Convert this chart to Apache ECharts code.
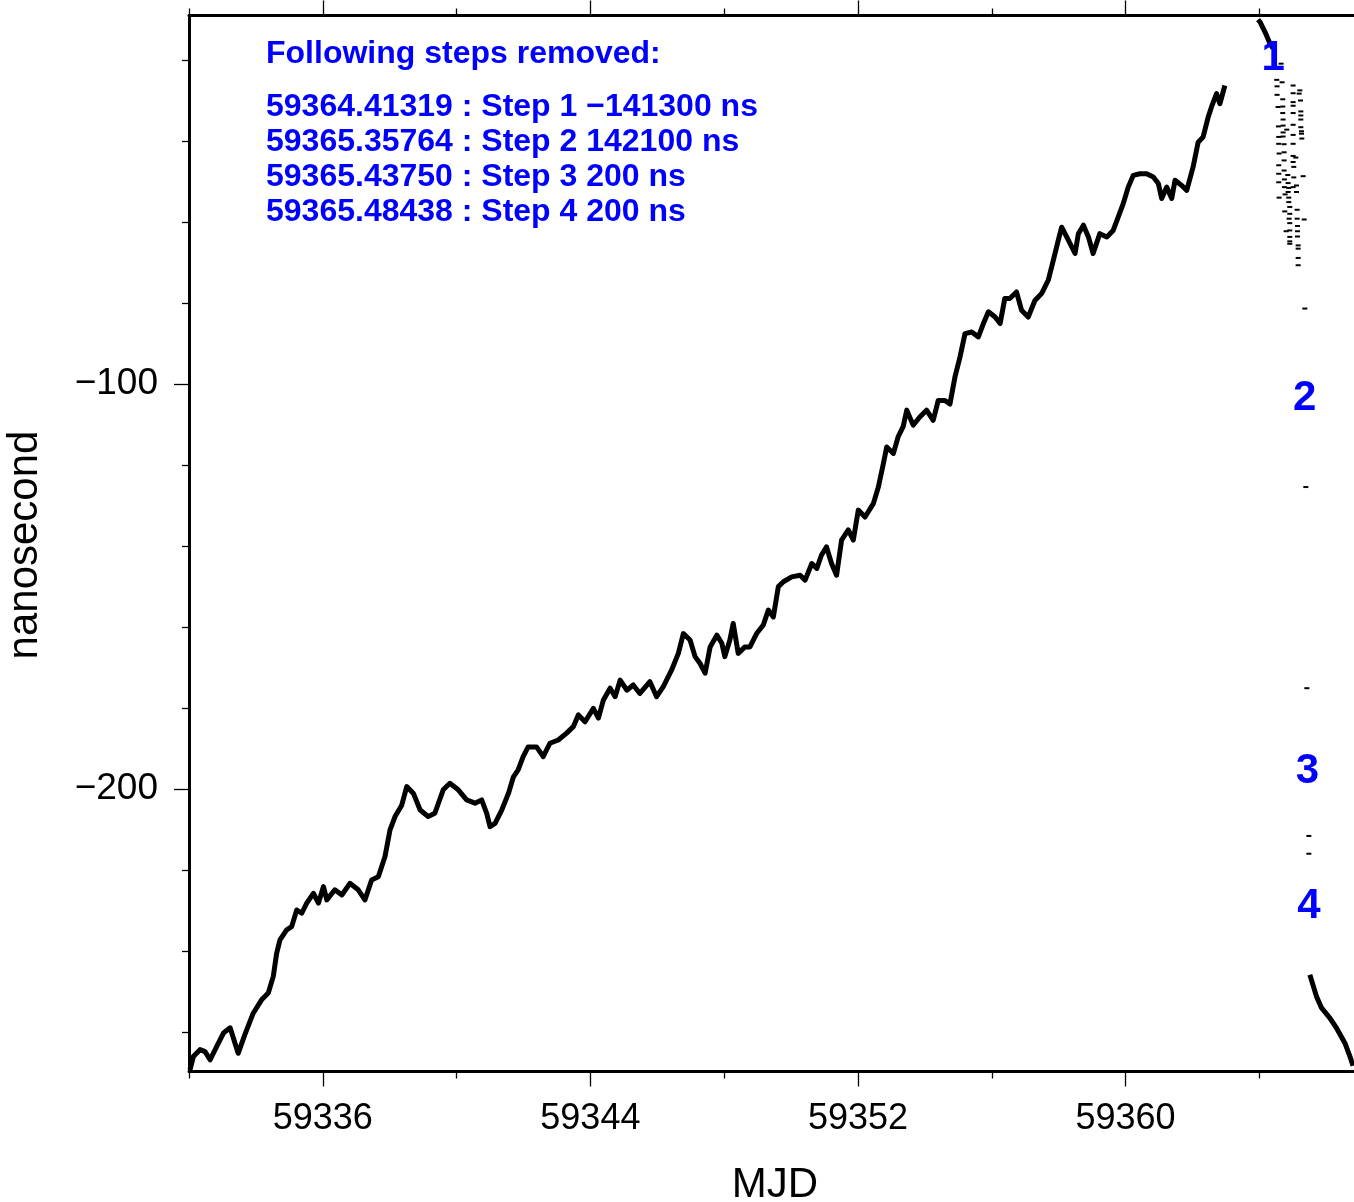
<!DOCTYPE html>
<html>
<head>
<meta charset="utf-8">
<script src="https://cdn.jsdelivr.net/npm/echarts@6/dist/echarts.min.js"></script>
<style>
html,body{margin:0;padding:0;background:#fff;}
#chart{width:1354px;height:1202px;}
</style>
</head>
<body>
<div id="chart"></div>
<script>
// ---- data ----
const mainMjd = [59332.03,59332.13,59332.33,59332.48,59332.63,59332.83,59333.03,59333.23,59333.47,59333.67,59333.92,59334.17,59334.37,59334.52,59334.62,59334.72,59334.92,59335.07,59335.22,59335.37,59335.52,59335.72,59335.87,59336.02,59336.12,59336.36,59336.57,59336.81,59337.06,59337.26,59337.46,59337.66,59337.86,59338.01,59338.16,59338.36,59338.51,59338.71,59338.91,59339.15,59339.35,59339.60,59339.80,59340.05,59340.30,59340.55,59340.75,59340.90,59341.00,59341.15,59341.35,59341.55,59341.70,59341.84,59341.99,59342.14,59342.39,59342.59,59342.79,59343.04,59343.29,59343.49,59343.64,59343.84,59344.09,59344.24,59344.39,59344.59,59344.74,59344.89,59345.09,59345.28,59345.48,59345.78,59345.98,59346.18,59346.43,59346.63,59346.78,59346.98,59347.13,59347.28,59347.43,59347.58,59347.78,59347.93,59348.02,59348.17,59348.27,59348.42,59348.62,59348.77,59348.97,59349.17,59349.32,59349.47,59349.62,59349.77,59350.02,59350.27,59350.42,59350.62,59350.77,59350.91,59351.06,59351.21,59351.36,59351.51,59351.71,59351.86,59352.01,59352.21,59352.46,59352.61,59352.76,59352.86,59353.06,59353.20,59353.35,59353.46,59353.65,59353.85,59354.05,59354.25,59354.40,59354.60,59354.75,59354.90,59355.05,59355.20,59355.40,59355.60,59355.75,59355.90,59356.10,59356.25,59356.39,59356.54,59356.74,59356.89,59357.09,59357.29,59357.49,59357.69,59357.84,59357.99,59358.09,59358.29,59358.49,59358.59,59358.74,59358.89,59359.03,59359.23,59359.44,59359.63,59359.78,59359.93,59360.08,59360.23,59360.43,59360.63,59360.83,59360.98,59361.08,59361.23,59361.38,59361.48,59361.68,59361.83,59362.02,59362.17,59362.32,59362.47,59362.57,59362.72,59362.82,59362.97];
const mainNs = [-269.4,-266.1,-264.4,-264.9,-266.9,-263.6,-260.3,-259.0,-265.3,-260.7,-255.4,-252.1,-250.4,-246.3,-240.6,-237.3,-234.8,-234.0,-229.9,-230.7,-228.2,-225.8,-228.2,-224.1,-227.4,-224.9,-226.2,-223.3,-224.9,-227.4,-222.5,-221.7,-216.7,-210.1,-206.8,-204.0,-199.4,-201.1,-205.2,-206.8,-206.0,-200.2,-198.6,-200.2,-202.7,-203.5,-202.7,-206.0,-209.3,-208.5,-205.2,-201.1,-197.0,-195.3,-192.0,-189.6,-189.6,-192.0,-188.7,-187.9,-186.2,-184.6,-181.7,-183.4,-180.1,-182.5,-178.0,-175.1,-177.2,-173.1,-175.6,-174.3,-176.4,-173.5,-177.2,-174.7,-170.6,-166.5,-161.6,-163.2,-167.3,-169.0,-171.4,-164.9,-162.0,-164.0,-167.3,-163.2,-159.1,-166.5,-164.9,-164.9,-161.6,-159.5,-155.8,-157.5,-150.0,-148.8,-147.6,-147.2,-148.4,-144.3,-145.5,-142.2,-140.2,-144.3,-147.2,-138.5,-136.0,-138.5,-131.1,-132.8,-129.5,-125.4,-119.6,-115.5,-117.1,-113.0,-110.5,-106.4,-110.1,-108.1,-106.4,-108.9,-104.0,-104.0,-104.9,-98.2,-93.3,-87.5,-87.1,-88.3,-85.0,-82.1,-83.4,-85.0,-78.8,-78.8,-77.2,-81.7,-83.4,-79.3,-77.6,-74.3,-69.4,-64.4,-61.2,-64.4,-67.7,-62.8,-60.7,-63.6,-67.7,-62.8,-63.6,-62.0,-58.7,-55.4,-51.3,-48.4,-48.0,-48.0,-48.8,-50.4,-54.1,-51.3,-54.1,-49.6,-50.9,-52.1,-46.3,-40.2,-38.9,-34.0,-31.5,-28.2,-30.7,-26.2];

const topSegMjd = [59363.96,59364.02,59364.17,59364.32,59364.41];
const topSegNs = [-9.9,-10.5,-13.0,-15.9,-17.0];

const scatMjd = [59364.65,59364.52,59364.68,59365.01,59365.21,59364.53,59365.01,59365.19,59364.53,59364.70,59365.23,59365.01,59364.56,59364.70,59365.01,59365.24,59364.70,59365.01,59365.24,59364.71,59365.24,59364.57,59364.71,59365.01,59365.24,59364.82,59364.71,59365.26,59364.58,59364.71,59365.01,59365.26,59365.27,59364.58,59364.74,59365.01,59364.59,59364.74,59365.01,59365.09,59364.74,59365.01,59364.58,59364.74,59365.03,59364.58,59364.85,59364.75,59365.03,59365.31,59364.58,59364.86,59365.11,59364.75,59364.88,59365.01,59365.11,59364.86,59364.77,59364.59,59364.88,59364.88,59364.91,59364.76,59365.13,59364.91,59364.89,59365.13,59365.34,59364.91,59365.14,59364.80,59364.91,59365.14,59364.91,59365.14,59364.91,59364.91,59365.16,59365.16,59365.16,59365.16,59365.36,59365.39,59365.42,59365.48,59365.48];
const scatNs = [-20.8,-24.8,-25.4,-26.2,-27.4,-26.4,-28.1,-28.2,-28.5,-29.6,-29.9,-30.3,-31.5,-31.4,-31.2,-32.6,-33.0,-33.0,-33.6,-34.6,-34.6,-36.3,-36.1,-35.9,-36.5,-37.1,-37.8,-37.5,-38.9,-38.8,-38.4,-38.1,-39.3,-40.6,-40.7,-40.6,-43.0,-42.7,-43.6,-44.0,-44.7,-45.1,-45.9,-47.2,-46.3,-48.0,-48.3,-49.4,-48.9,-48.6,-50.1,-50.3,-50.9,-51.3,-51.5,-51.3,-52.5,-52.5,-53.1,-53.9,-53.9,-55.0,-56.2,-57.3,-56.9,-57.9,-59.1,-59.1,-59.3,-60.2,-60.9,-62.2,-62.0,-62.2,-63.6,-63.5,-64.7,-65.3,-65.7,-66.5,-68.8,-70.6,-81.3,-125.4,-175.1,-211.6,-216.0];

const endSegMjd = [59365.51,59365.71,59365.86,59366.11,59366.31,59366.56,59366.71,59366.80];
const endSegNs = [-245.9,-251.3,-254.1,-256.6,-259.1,-262.8,-266.1,-268.4];

const stepMjd = [59364.41319,59365.35764,59365.43750,59365.48438];
const stepLabelNs = [-19.5,-103.5,-195.6,-228.9];
const stepNames = ['1','2','3','4'];

const noteTitle = 'Following steps removed:';
const noteLines = [
  '59364.41319 : Step 1 \u2212141300 ns',
  '59365.35764 : Step 2 142100 ns',
  '59365.43750 : Step 3 200 ns',
  '59365.48438 : Step 4 200 ns'
];

const xMajor = [59336,59344,59352,59360];
const xMinor = [59332,59340,59348,59356,59364];
const yMajor = [-200,-100];
const yMinor = [-260,-240,-220,-180,-160,-140,-120,-80,-60,-40,-20];
const xMin = 59332, xMax = 59366.83;
const yMin = -269.8, yMax = -8.9;

// ---- chart ----
const FONT = '"Liberation Sans", Arial, Helvetica, sans-serif';
const zip = (a,b) => a.map((v,i)=>[v,b[i]]);
const chart = echarts.init(document.getElementById('chart'), null, {renderer:'canvas'});

function xAx(pos, ticks, len, showLabel, showLine){
  return {
    type:'value', position:pos, min:xMin, max:xMax, interval:1000,
    axisLine:{show:showLine, onZero:false, lineStyle:{color:'#000', width:3}},
    axisTick:{show:true, inside:false, length:len, customValues:ticks, lineStyle:{color:'#000', width:1.3}},
    axisLabel:{show:showLabel, customValues:ticks, margin:30, color:'#000', fontSize:36, fontFamily:FONT,
      formatter:(v)=>String(v)},
    splitLine:{show:false}
  };
}
function yAx(ticks, len, showLabel, showLine){
  return {
    type:'value', position:'left', min:yMin, max:yMax, interval:1000,
    axisLine:{show:showLine, onZero:false, lineStyle:{color:'#000', width:3}},
    axisTick:{show:true, inside:false, length:len, customValues:ticks, lineStyle:{color:'#000', width:1.3}},
    axisLabel:{show:showLabel, customValues:ticks, margin:31, color:'#000', fontSize:37, fontFamily:FONT,
      formatter:(v)=>String(v).replace('-', '\u2212')},
    splitLine:{show:false}
  };
}

const graphics = [
  {type:'text', x:266, y:54, style:{text:noteTitle, font:'bold 32px '+FONT, fill:'#0000ff', align:'left', verticalAlign:'middle'}},
  {type:'text', x:775, y:1185, style:{text:'MJD', font:'42px '+FONT, fill:'#000', align:'center', verticalAlign:'middle'}},
  {type:'text', x:25, y:545, rotation:Math.PI/2, style:{text:'nanosecond', font:'42px '+FONT, fill:'#000', align:'center', verticalAlign:'middle'}}
];
noteLines.forEach((t,i)=>{
  graphics.push({type:'text', x:266, y:107+35*i, style:{text:t, font:'bold 32px '+FONT, fill:'#0000ff', align:'left', verticalAlign:'middle'}});
});

chart.setOption({
  animation:false,
  backgroundColor:'#fff',
  grid:{left:189, top:15.5, right:0, height:1056, containLabel:false},
  xAxis:[
    xAx('bottom', xMajor, 15, true, true),
    xAx('bottom', xMinor, 7, false, false),
    xAx('top', xMajor, 15, false, true),
    xAx('top', xMinor, 7, false, false)
  ],
  yAxis:[
    yAx(yMajor, 15, true, true),
    yAx(yMinor, 7, false, false)
  ],
  series:[
    {type:'line', data:zip(mainMjd, mainNs), symbol:'none', lineStyle:{color:'#000', width:5, join:'round'}, z:3},
    {type:'line', data:zip(topSegMjd, topSegNs), symbol:'none', lineStyle:{color:'#000', width:5}, z:3},
    {type:'line', data:zip(endSegMjd, endSegNs), symbol:'none', lineStyle:{color:'#000', width:5}, z:3},
    {type:'scatter', data:zip(scatMjd, scatNs), symbol:'rect', symbolSize:[5,2], itemStyle:{color:'#000', opacity:1}, z:3},
    {type:'scatter', data:stepMjd.map((m,i)=>({value:[m, stepLabelNs[i]], name:stepNames[i]})),
      symbol:'circle', symbolSize:1, itemStyle:{color:'rgba(0,0,0,0)', opacity:1}, z:5, silent:true,
      label:{show:true, position:'inside', formatter:'{b}', color:'#0000ff', opacity:1, fontSize:42, fontWeight:'bold', fontFamily:FONT}}
  ],
  graphic:graphics
});
</script>
</body>
</html>
